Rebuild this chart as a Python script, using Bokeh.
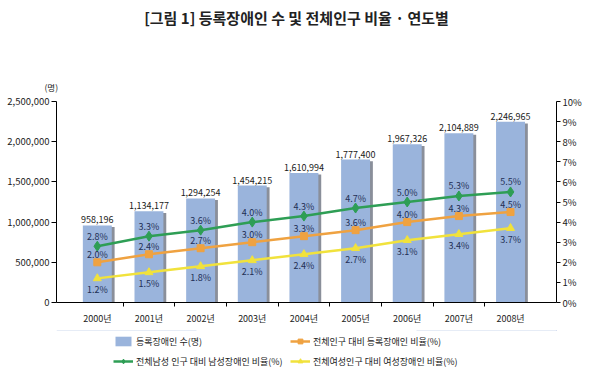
from bokeh.plotting import figure
from bokeh.layouts import column
from bokeh.models import (Range1d, LinearAxis, FixedTicker, NumeralTickFormatter,
                          PrintfTickFormatter, Legend, LegendItem, ColumnDataSource, Label, Title)
from bokeh.core.properties import value
from bokeh.embed import file_html
from bokeh.resources import INLINE

years = ["2000년", "2001년", "2002년", "2003년", "2004년", "2005년", "2006년", "2007년", "2008년"]
registered = [958196, 1134177, 1294254, 1454215, 1610994, 1777400, 1967326, 2104889, 2246965]
total_pct = [2.0, 2.4, 2.7, 3.0, 3.3, 3.6, 4.0, 4.3, 4.5]
male_pct = [2.8, 3.3, 3.6, 4.0, 4.3, 4.7, 5.0, 5.3, 5.5]
female_pct = [1.2, 1.5, 1.8, 2.1, 2.4, 2.7, 3.1, 3.4, 3.7]
left_ticks = [0, 500000, 1000000, 1500000, 2000000, 2500000]
right_ticks = list(range(0, 11))
series_names = ["등록장애인 수(명)", "전체인구 대비 등록장애인 비율(%)",
                "전체남성 인구 대비 남성장애인 비율(%)", "전체여성인구 대비 여성장애인 비율(%)"]
title_text = "[그림 1] 등록장애인 수 및 전체인구 비율 · 연도별"
unit_text = "(명)"

FONT = "Noto Sans CJK KR"
GREEN, ORANGE, YELLOW, BLUE, SHADOW = "#2E9E55", "#EFA241", "#F1E23C", "#9AB4DC", "#8a8f9a"
LBL = "#1F2F55"
TXT = "#222222"
xs = list(range(len(years)))

src = ColumnDataSource(dict(
    x=xs,
    xs=[x + 0.055 for x in xs],
    reg=registered,
    reg_s=[r - 20000 for r in registered],
    reg_lbl=[f"{r:,}" for r in registered],
    tot=total_pct, male=male_pct, fem=female_pct,
    tot_lbl=[f"{v:.1f}%" for v in total_pct],
    male_lbl=[f"{v:.1f}%" for v in male_pct],
    fem_lbl=[f"{v:.1f}%" for v in female_pct],
))


def blank(h):
    f = figure(width=584, height=h, output_backend="svg", toolbar_location=None, title=None,
               x_range=Range1d(0, 1), y_range=Range1d(-2, -1),
               min_border_left=0, min_border_right=0, min_border_top=0, min_border_bottom=0)
    f.extra_y_ranges = {"pct": Range1d(-2, -1)}
    f.axis.visible = False
    f.xgrid.visible = False
    f.ygrid.visible = False
    f.outline_line_color = None
    return f


# title strip (its frame is aligned with the chart frame, which starts 56px in)
t = blank(61)
t.add_layout(Label(x=240, y=44, x_units="screen", y_units="screen", text=title_text,
                   text_font=FONT, text_font_size="15px", text_font_style="bold",
                   text_color=TXT, text_align="center", text_baseline="middle"))

# main chart
p = figure(width=584, height=269, output_backend="svg", toolbar_location=None, title=None,
           x_range=Range1d(-0.79, 8.89), y_range=Range1d(0, 2500000),
           min_border_left=56, min_border_right=24, min_border_top=40, min_border_bottom=28)
p.extra_y_ranges = {"pct": Range1d(0, 10)}
p.outline_line_color = None
p.xgrid.visible = False
p.ygrid.visible = False

xa = p.xaxis[0]
xa.ticker = FixedTicker(ticks=xs, minor_ticks=[i + 0.5 for i in xs[:-1]])
xa.major_label_overrides = {i: y for i, y in enumerate(years)}
xa.major_tick_line_color = None
xa.minor_tick_out = 4
xa.minor_tick_in = 0
xa.minor_tick_line_color = "black"
xa.axis_line_color = "black"
xa.major_label_text_font = FONT
xa.major_label_text_font_size = "9px"
xa.major_label_text_color = TXT
xa.major_label_standoff = 3

ya = p.yaxis[0]
ya.ticker = FixedTicker(ticks=left_ticks)
ya.formatter = NumeralTickFormatter(format="0,0")
ya.minor_tick_line_color = None
ya.major_tick_in = 0
ya.major_tick_out = 5
ya.major_label_standoff = 2
ya.major_label_text_font = FONT
ya.major_label_text_font_size = "9.5px"
ya.major_label_text_color = TXT
ya.axis_line_color = "black"

ra = LinearAxis(y_range_name="pct", ticker=FixedTicker(ticks=right_ticks),
                formatter=PrintfTickFormatter(format="%d%%"))
ra.minor_tick_line_color = None
ra.major_tick_in = 0
ra.major_tick_out = 4
ra.major_label_standoff = 2
ra.major_label_text_font = FONT
ra.major_label_text_font_size = "9.5px"
ra.major_label_text_color = TXT
ra.axis_line_color = "black"
p.add_layout(ra, "right")

p.add_layout(Title(text=unit_text, align="left", offset=-12, standoff=18,
                   text_font=FONT, text_font_size="8.5px", text_font_style="normal",
                   text_color=TXT), "above")


def draw_series(fig, with_shadow):
    if with_shadow:
        fig.vbar(x="xs", top="reg_s", width=0.56, source=src, fill_color=SHADOW, line_color=None)
    b = fig.vbar(x="x", top="reg", width=0.56, source=src, fill_color=BLUE, line_color=None)
    lt = fig.line(x="x", y="tot", source=src, y_range_name="pct", line_color=ORANGE, line_width=2.5)
    st = fig.scatter(x="x", y="tot", source=src, y_range_name="pct", marker="square", size=7,
                     fill_color=ORANGE, line_color=ORANGE)
    lm = fig.line(x="x", y="male", source=src, y_range_name="pct", line_color=GREEN, line_width=2.5)
    sm = fig.scatter(x="x", y="male", source=src, y_range_name="pct", marker="diamond", size=10,
                     fill_color=GREEN, line_color=GREEN)
    lf = fig.line(x="x", y="fem", source=src, y_range_name="pct", line_color=YELLOW, line_width=2.5)
    sf = fig.scatter(x="x", y="fem", source=src, y_range_name="pct", marker="triangle", size=8,
                     fill_color=YELLOW, line_color=YELLOW)
    return [[b], [lt, st], [lm, sm], [lf, sf]]


draw_series(p, True)

p.text(x="x", y="reg", text="reg_lbl", source=src, text_align="center", text_baseline="bottom",
       y_offset=-2, text_font=value(FONT), text_font_size="9px", text_color="#1a1a1a")
p.text(x="x", y="male", text="male_lbl", source=src, y_range_name="pct", text_align="center",
       text_baseline="middle", y_offset=-10, text_font=value(FONT), text_font_size="9px", text_color=LBL)
p.text(x="x", y="tot", text="tot_lbl", source=src, y_range_name="pct", text_align="center",
       text_baseline="middle", y_offset=-8, text_font=value(FONT), text_font_size="9px", text_color=LBL)
p.text(x="x", y="fem", text="fem_lbl", source=src, y_range_name="pct", text_align="center",
       text_baseline="middle", y_offset=11, text_font=value(FONT), text_font_size="9px", text_color=LBL)

# legend strip (frame aligned with the chart frame)
q = blank(39)
groups = draw_series(q, False)
legend = Legend(items=[LegendItem(label=n, renderers=r) for n, r in zip(series_names, groups)],
                location=(57, 1), orientation="horizontal", ncols=2,
                glyph_width=20, glyph_height=12, label_standoff=3, spacing=6,
                label_text_font=FONT, label_text_font_size="9px", label_text_color=TXT,
                border_line_color=None, background_fill_alpha=0, padding=0, margin=0,
                label_height=14, label_width=148)
q.add_layout(legend)

layout = column(t, p, q, spacing=0)
open("out.html", "w").write(file_html(layout, INLINE))
